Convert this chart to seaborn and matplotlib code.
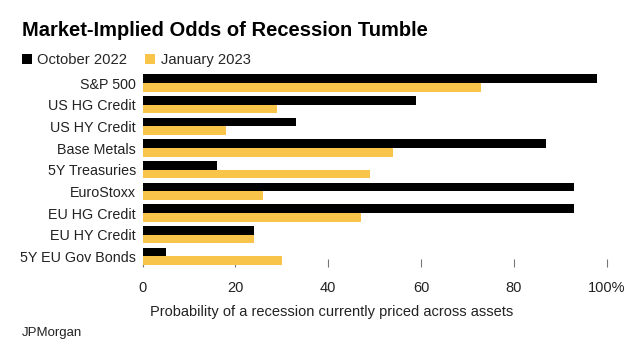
import pandas as pd
import matplotlib
matplotlib.use("Agg")
import matplotlib.pyplot as plt
import seaborn as sns

# Datos
assets = ["S&P 500", "US HG Credit", "US HY Credit", "Base Metals", "5Y Treasuries",
          "EuroStoxx", "EU HG Credit", "EU HY Credit", "5Y EU Gov Bonds"]
october_2022 = [98, 59, 33, 87, 16, 93, 93, 24, 5]
january_2023 = [73, 29, 18, 54, 49, 26, 47, 24, 30]
periods = ["October 2022", "January 2023"]
x_ticks = [0, 20, 40, 60, 80, 100]
x_ticklabels = ["0", "20", "40", "60", "80", "100%"]

df = pd.DataFrame({
    "asset": assets * 2,
    "period": [periods[0]] * len(assets) + [periods[1]] * len(assets),
    "value": october_2022 + january_2023,
})

sns.set_theme(style="white")
plt.rcParams["font.family"] = ["Liberation Sans", "DejaVu Sans"]

fig = plt.figure(figsize=(6.31, 3.54), dpi=100)
ax = fig.add_axes([0.226, 0.2452, 0.7352, 0.5508])

sns.barplot(data=df, y="asset", x="value", hue="period", orient="h",
            palette=["#000000", "#F8C54A"], linewidth=0, saturation=1,
            width=0.8, ax=ax)

ax.set_xlim(0, 100)
ax.set_xticks(x_ticks)
ax.set_xticklabels(x_ticklabels)
ax.set_axisbelow(True)
ax.tick_params(axis="x", bottom=True, direction="in", length=6, width=0.8,
               color="#777777", labelsize=10.5, pad=10, labelcolor="#222222")
ax.tick_params(axis="y", left=False, length=0, labelsize=10.3, pad=4.7,
               labelcolor="#222222")
for s in ax.spines.values():
    s.set_visible(False)
ax.set_ylabel("")
ax.set_xlabel("Probability of a recession currently priced across assets",
              fontsize=10.5, color="#222222")
ax.xaxis.set_label_coords(0.408, -0.195)

sns.move_legend(ax, "center left", bbox_to_anchor=(22 / 631, 1 - 60 / 354),
                bbox_transform=fig.transFigure, ncol=2, frameon=False, title=None,
                fontsize=10.6, handlelength=0.7, handleheight=0.7,
                handletextpad=0.35, columnspacing=1.2, borderpad=0, borderaxespad=0)

fig.text(22 / 631, 1 - 31 / 354, "Market-Implied Odds of Recession Tumble",
         fontsize=14.5, fontweight="bold", va="center", ha="left", color="#000000")
fig.text(22 / 631, 1 - 333 / 354, "JPMorgan", fontsize=9.5, va="center",
         ha="left", color="#222222")

plt.savefig("out.png", dpi=100)
